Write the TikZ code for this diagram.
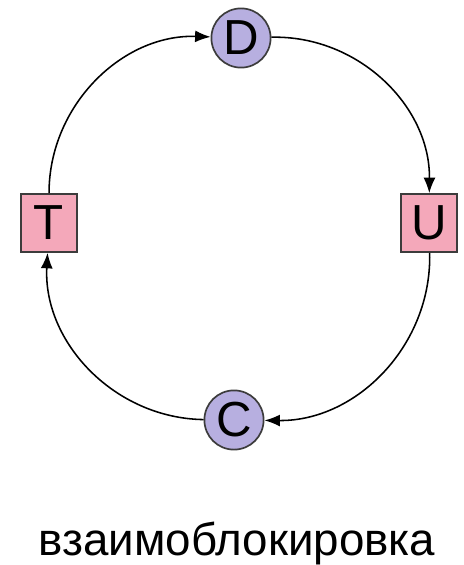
\documentclass[tikz,border=0pt]{standalone}
\usepackage{fontspec}
\setmainfont{Liberation Sans}
\usetikzlibrary{arrows.meta}
\definecolor{lockfill}{RGB}{183,175,224}
\definecolor{resfill}{RGB}{244,168,186}
\definecolor{edgegray}{RGB}{60,60,60}

\begin{document}
\begin{tikzpicture}[
x=0.025cm, y=-0.025cm,
procnode/.style={
draw=edgegray,
line width=1.2pt,
circle,
fill=lockfill,
minimum size=1.48cm,
inner sep=0pt,
font=\fontsize{35}{40}\selectfont
},
resnode/.style={
draw=edgegray,
line width=1.2pt,
rectangle,
fill=resfill,
minimum width=1.4cm,
minimum height=1.45cm,
inner sep=0pt,
font=\fontsize{35}{40}\selectfont
},
cycle/.style={
line width=1.1pt,
-{Latex[length=11pt,width=8.5pt]},
bend left=46
}
]

\useasboundingbox (0,0) rectangle (464,565);

% ================= NODES =================
\node[procnode] (D) at (241,38) {D};
\node[procnode] (C) at (234,420) {C};
\node[resnode] (T) at (49,223) {T};
\node[resnode] (U) at (429,223) {U};

% ================= CYCLE =================
\draw[cycle] (T) to (D);
\draw[cycle] (D) to (U);
\draw[cycle] (U) to (C);
\draw[cycle] (C) to (T);

% ================= CAPTION =================
\node[font=\fontsize{32.5}{38}\selectfont, anchor=base] (caption) at (237,555) {взаимоблокировка};

\end{tikzpicture}
\end{document}
